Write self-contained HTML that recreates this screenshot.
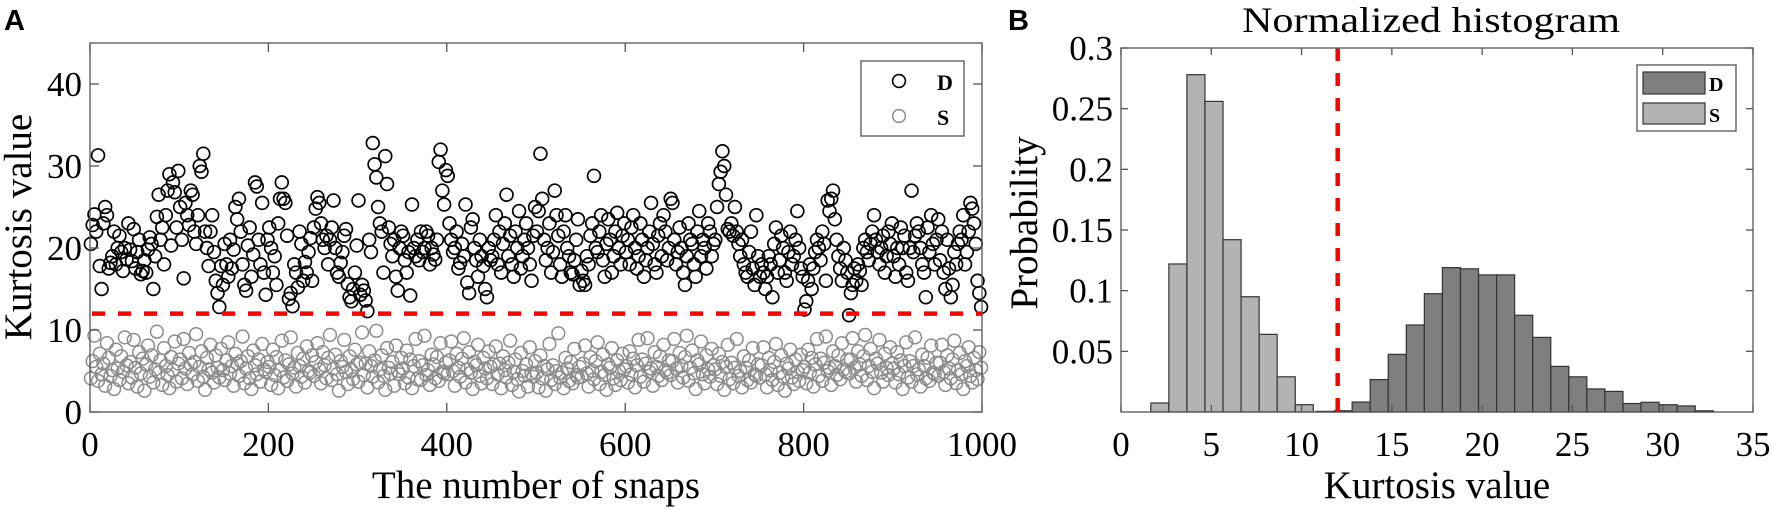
<!DOCTYPE html>
<html><head><meta charset="utf-8"><style>
html,body{margin:0;padding:0;background:#fff;}
svg{display:block;font-family:"Liberation Serif",serif;}
</style></head><body>
<svg id="chart" width="1772" height="510" viewBox="0 0 1772 510" xmlns="http://www.w3.org/2000/svg">
<text x="4" y="30" font-family="Liberation Sans, sans-serif" font-weight="bold" font-size="29">A</text>
<text x="1008" y="30" font-family="Liberation Sans, sans-serif" font-weight="bold" font-size="29">B</text>
<g id="pa"></g>
<g id="pb"></g>
</svg>
<script>
// ---------- Panel A data ----------
const aXTicks = [0,200,400,600,800,1000];
const aYTicks = [0,10,20,30,40];
const aThreshold = 12;
const dValues = [
20.5,22.8,24.1,22,31.3,17.8,15,23,25,24,17.5,18.2,19,22,18,20,21.5,19.5,17.2,20,18.6,23,19.8,18.4,22.3,
17.5,19.5,21,16.8,17.2,18.5,17,19.8,21.3,20.5,15,19,23.8,26.5,21,22.5,18,24,27,29,20.3,28,26.8,22.5,29.4,
25,21,16.3,25.5,24,22.8,27,26.5,22,20.5,24,30,29.3,31.5,22,20,17.8,22,24,19.5,16,14.5,12.8,17.8,15.5,
20.5,18,16.5,21,17.5,19.8,25,23.5,26,22,18,15.5,14.8,20.3,22.5,16.5,19.2,28,27.5,21,18,25.5,17,14.3,21,
22.5,20,17,19,15.5,23,26,28,26,25.5,21.5,13.8,14.5,12.9,18,17,15.2,22,20.5,16,18.3,17,19.5,21.2,16,
22.5,24.8,26.2,25.5,23,21,20,21.5,18,21,22.5,25.8,20,17,16.5,18.2,19.5,21.5,22.3,15.6,14,13.5,15,17,20.3,
25.8,14.3,15.5,14.8,13.6,12.3,21,19.5,32.8,30.2,28.6,25,23,22,17,31.2,27.8,22.5,20.5,19,21,16.5,14.8,20,22,
21.5,18.5,17,19.5,14.2,25.3,20,19,21,18.5,22,19.5,20,22,21.5,18,20,19.2,18.6,21,30.5,32,27,25.3,29.5,
28.8,23,21,19.5,20,22,17.5,18.2,20.5,19,25.3,15.8,14.5,22.5,23.5,20,18.5,16.5,21,19,17.8,15,14,20,18.5,
19,21,24,18,22,17,20.5,23,26.5,19,21.5,18,16.5,22,20,24.5,17.5,19,21,23,20,18,16,21.5,25,
22,24.5,31.5,26,21,18.5,20,23,17,19.5,27,24,21.5,18,16.5,22,24,20,19,17,16.8,18.5,21,23.5,15.5,
17.2,16,15.5,19,18,21.5,23,28.8,20,19.5,22,24,18.5,16.5,20.5,23.5,21,17,19,22,24.3,20,18,21.5,23,
19.5,21,18,22.5,24,20,17.5,19,23,21,16.5,18.5,20,22,25.5,20.5,18,17,21.5,23,19,24,22,18.5,20,
26,25.5,21,18,19.5,22.5,20,17,15.5,19,23,21,20.5,18,16.5,22,24.5,19,21,20,17.5,23,22,19,20.5,
21,25,27.8,29.3,31.8,30,26.5,22.3,22,23,21.5,25,22,20.5,19,21,18,17,16.5,19.5,22,17.5,15.5,24,19,
16.5,18,17,15,16.5,19,18,14,20.5,22.5,17,18.5,21.5,20,17,16,19.5,22,18,19,21,24.5,20,17.5,16.5,
12.5,13.5,16,18,15,17.5,19.5,21,20,18.5,22,20.5,16,25.8,24.5,26,27,23.5,21,19,17.5,16,20,18.5,17,
11.8,14.5,15.5,17.5,16,18,17.2,15.5,20,21,19.5,18.5,20.5,22,24,21,19.5,18,20,21.5,17,19,22,20.5,23,
19,16.5,20,18,22.5,20,21.5,17,16,20,27,19.5,21.5,23,22,20,18,17,14,22.5,19.5,24,20.5,18,21,
23.5,18.5,22,17,15,21,17.5,14,15.5,19.5,18,20.5,22,21,24,18,19.5,22,25.5,24.8,23,20.5,16,14.5,12.8
];
const sValues = [
4.1,6.2,9.3,5.5,3.8,7.1,4.6,5.9,3.2,8.4,6.6,4.4,5.1,2.8,7.6,5.3,3.9,6.8,4.9,9.1,5.7,3.5,6.1,4.2,8.8,
5.4,3.1,7.3,4.7,6.5,2.6,5.8,8.1,4.3,6.9,3.6,5.2,9.8,4.8,6.3,3.3,7.8,5.6,4.5,2.9,6.7,5.1,8.6,3.7,5.9,
6.4,4.1,8.9,5.3,3.4,7.2,5.8,4.6,6.1,9.5,3.8,5.5,7.4,4.3,2.7,6.6,5.2,8.2,4.8,3.6,6.9,5.4,4.2,7.7,5.1,
3.9,6.3,8.5,4.7,5.6,3.2,7.1,5.9,4.4,6.2,9.2,3.5,5.3,6.8,4.1,2.8,7.5,5.7,4.6,6.4,3.7,8.3,5.2,4.9,6.1,
5.5,3.3,7.6,4.5,6.7,2.9,5.1,8.7,4.2,6.3,3.8,5.8,9.1,4.7,5.4,3.1,7.2,5.6,4.3,6.5,3.6,8.0,5.0,4.8,6.9,
4.4,6.1,8.4,5.2,3.5,7.3,5.7,4.1,6.6,9.4,3.9,5.3,7.0,4.6,2.6,6.2,5.5,8.8,4.9,3.4,6.8,5.1,4.0,7.6,5.8,
3.7,6.0,9.7,4.5,5.9,3.0,7.4,5.6,4.3,6.3,9.9,3.6,5.2,6.9,4.4,2.7,7.8,5.4,4.7,6.1,3.2,8.1,5.0,4.6,6.6,
5.3,3.5,7.5,4.2,6.4,2.9,5.6,8.9,4.0,6.2,3.9,5.7,9.3,4.5,5.1,3.3,7.0,5.8,4.1,6.7,3.8,8.4,4.9,4.7,6.0,
4.6,6.3,8.6,5.0,3.2,7.1,5.4,4.3,6.5,9.0,3.6,5.2,7.3,4.8,2.8,6.1,5.7,8.2,4.4,3.5,6.6,5.3,4.1,7.4,5.5,
3.4,5.8,8.0,4.6,5.9,2.9,6.8,5.1,4.2,6.0,8.7,3.3,4.9,6.4,4.0,2.5,7.2,5.0,4.4,5.8,3.1,7.9,4.7,4.3,6.2,
4.8,3.0,6.9,4.1,5.6,2.6,5.2,8.3,3.9,5.7,3.4,5.0,9.6,4.2,4.8,2.9,6.6,5.3,3.8,6.1,3.5,7.7,4.5,4.2,5.5,
4.3,5.9,8.1,4.7,3.1,6.7,5.0,4.0,6.2,8.5,3.4,4.9,7.0,4.5,2.7,5.8,5.4,7.8,4.1,3.3,6.3,5.0,3.9,7.1,5.2,
5.6,3.6,7.4,4.6,6.5,3.0,5.7,8.8,4.3,6.4,3.7,5.9,9.0,4.9,5.3,3.2,7.3,5.5,4.4,6.8,3.9,8.2,5.1,4.8,6.3,
4.5,6.2,8.9,5.3,3.6,7.2,5.6,4.2,6.7,9.3,3.8,5.4,7.5,4.7,2.8,6.3,5.8,8.6,4.6,3.5,6.9,5.2,4.3,7.7,5.7,
5.2,3.4,7.1,4.4,6.1,2.7,5.5,8.2,4.0,6.0,3.5,5.4,8.9,4.4,5.0,3.0,6.8,5.4,3.9,6.3,3.6,7.8,4.6,4.4,5.8,
4.2,5.7,7.9,4.6,3.0,6.6,5.1,3.9,6.1,8.3,3.3,4.8,6.9,4.3,2.6,5.9,5.3,7.6,4.2,3.4,6.4,4.9,3.8,7.0,5.1,
5.5,3.5,7.6,4.8,6.6,3.1,5.8,8.9,4.4,6.5,3.8,6.0,9.2,5.0,5.4,3.3,7.4,5.6,4.5,6.9,4.0,8.4,5.2,4.9,6.4,
4.7,6.4,9.0,5.4,3.7,7.4,5.8,4.4,6.8,9.4,3.9,5.6,7.7,4.9,2.9,6.5,5.9,8.8,4.8,3.7,7.1,5.4,4.5,7.9,5.9,
5.3,3.6,7.3,4.6,6.3,2.8,5.6,8.5,4.2,6.2,3.7,5.6,9.1,4.6,5.2,3.1,7.0,5.6,4.1,6.6,3.8,8.1,4.8,4.6,6.0,
4.4,6.0,8.2,4.9,3.3,6.9,5.3,4.1,6.4,8.7,3.5,5.1,7.2,4.6,2.8,6.2,5.6,7.9,4.4,3.6,6.6,5.1,4.0,7.3,5.4
];
// ---------- Panel B data ----------
const bXTicks = [0,5,10,15,20,25,30,35];
const bYTicks = [0.05,0.1,0.15,0.2,0.25,0.3];
const bThreshold = 12;
const binWidth = 1;
const sBinStart = 1.65;
const sProb = [0.0074,0.122,0.278,0.256,0.142,0.095,0.064,0.029,0.006];
const dBinStart = 10.8;
const dProb = [0.0005,0.001,0.0082,0.0267,0.0475,0.0717,0.0975,0.119,0.118,0.113,0.113,0.0797,0.0615,0.0376,0.029,0.019,0.017,0.007,0.008,0.006,0.005,0.001];

const NS="http://www.w3.org/2000/svg";
function mk(parent,tag,attrs,txt){const e=document.createElementNS(NS,tag);for(const k in attrs)e.setAttribute(k,attrs[k]);if(txt!==undefined)e.textContent=txt;parent.appendChild(e);return e;}

// Panel A
const A={l:90,r:982,t:43,b:412,xmax:1000,ymax:45};
const ax=v=>A.l+(v/A.xmax)*(A.r-A.l);
const ay=v=>A.b-(v/A.ymax)*(A.b-A.t);
const pa=document.getElementById('pa');
const ptsS=mk(pa,'g',{fill:'none',stroke:'#8c8c8c','stroke-width':1.5});


sValues.forEach((v,i)=>{const c=mk(ptsS,'circle',{cx:ax(i*2+1),cy:ay(v),r:6.4});

});
const ptsD=mk(pa,'g',{fill:'none',stroke:'#000','stroke-width':1.7});


dValues.forEach((v,i)=>{const c=mk(ptsD,'circle',{cx:ax(i*2+1),cy:ay(v),r:6.4});

});
const thA=mk(pa,'line',{x1:ax(0)+2,x2:A.r,y1:ay(aThreshold),y2:ay(aThreshold),stroke:'#ff0000','stroke-width':4.5,'stroke-dasharray':'13 13'});


const boxA=mk(pa,'rect',{x:A.l,y:A.t,width:A.r-A.l,height:A.b-A.t,fill:'none',stroke:'#555','stroke-width':1.3});


aXTicks.forEach(t=>{const x=ax(t);
mk(pa,'line',{x1:x,x2:x,y1:A.b,y2:A.b-9,stroke:'#555','stroke-width':1.3});
mk(pa,'line',{x1:x,x2:x,y1:A.t,y2:A.t+9,stroke:'#555','stroke-width':1.3});
const tl=mk(pa,'text',{x:x,y:456,'font-size':35,'text-anchor':'middle'},String(t));

});
aYTicks.forEach(t=>{const y=ay(t);
mk(pa,'line',{x1:A.l,x2:A.l+9,y1:y,y2:y,stroke:'#555','stroke-width':1.3});
mk(pa,'line',{x1:A.r,x2:A.r-9,y1:y,y2:y,stroke:'#555','stroke-width':1.3});
const tl=mk(pa,'text',{x:82,y:y+12,'font-size':35,'text-anchor':'end'},String(t));

});
const xtA=mk(pa,'text',{x:536,y:498,'font-size':39,'text-anchor':'middle'},'The number of snaps');


const ytA=mk(pa,'text',{x:0,y:0,'font-size':39,'text-anchor':'middle',transform:'translate(31,227) rotate(-90)'},'Kurtosis value');


const lgA=mk(pa,'g',{});


mk(lgA,'rect',{x:861,y:61,width:103,height:75,fill:'#fff',stroke:'#555','stroke-width':1.3});
mk(lgA,'circle',{cx:899,cy:81,r:6.4,fill:'none',stroke:'#000','stroke-width':1.6});
mk(lgA,'circle',{cx:899,cy:116,r:6.4,fill:'none',stroke:'#8c8c8c','stroke-width':1.5});
mk(lgA,'text',{x:937,y:90,'font-size':22,'font-weight':'bold'},'D');
mk(lgA,'text',{x:937,y:125,'font-size':22,'font-weight':'bold'},'S');

// Panel B
const B={l:1121,r:1753,t:48,b:412,xmax:35,ymax:0.3};
const bx=v=>B.l+(v/B.xmax)*(B.r-B.l);
const by=v=>B.b-(v/B.ymax)*(B.b-B.t);
const pb=document.getElementById('pb');
sProb.forEach((p,i)=>{const x0=bx(sBinStart+i*binWidth),x1=bx(sBinStart+(i+1)*binWidth);
const r=mk(pb,'rect',{x:x0,y:by(p),width:x1-x0,height:B.b-by(p),fill:'#b3b3b3',stroke:'#333','stroke-width':1.2});

});
dProb.forEach((p,i)=>{const x0=bx(dBinStart+i*binWidth),x1=bx(dBinStart+(i+1)*binWidth);
const r=mk(pb,'rect',{x:x0,y:by(p),width:x1-x0,height:B.b-by(p),fill:'#7f7f7f',stroke:'#333','stroke-width':1.2});

});
const thB=mk(pb,'line',{x1:bx(bThreshold),x2:bx(bThreshold),y1:B.t,y2:B.b,stroke:'#ff0000','stroke-width':4.5,'stroke-dasharray':'13 12'});


const boxB=mk(pb,'rect',{x:B.l,y:B.t,width:B.r-B.l,height:B.b-B.t,fill:'none',stroke:'#555','stroke-width':1.3});


bXTicks.forEach(t=>{const x=bx(t);
mk(pb,'line',{x1:x,x2:x,y1:B.b,y2:B.b-7,stroke:'#555','stroke-width':1.3});
mk(pb,'line',{x1:x,x2:x,y1:B.t,y2:B.t+7,stroke:'#555','stroke-width':1.3});
const tl=mk(pb,'text',{x:x,y:456,'font-size':35,'text-anchor':'middle'},String(t));

});
bYTicks.forEach(t=>{const y=by(t);
mk(pb,'line',{x1:B.l,x2:B.l+7,y1:y,y2:y,stroke:'#555','stroke-width':1.3});
mk(pb,'line',{x1:B.r,x2:B.r-7,y1:y,y2:y,stroke:'#555','stroke-width':1.3});
const tl=mk(pb,'text',{x:1113,y:y+12,'font-size':35,'text-anchor':'end'},String(t));

});
const titleB=mk(pb,'text',{x:1431,y:32,'font-size':36,'text-anchor':'middle',textLength:378,lengthAdjust:'spacingAndGlyphs'},'Normalized histogram');


const xtB=mk(pb,'text',{x:1437,y:498,'font-size':39,'text-anchor':'middle'},'Kurtosis value');


const ytB=mk(pb,'text',{x:0,y:0,'font-size':39,'text-anchor':'middle',transform:'translate(1037,223) rotate(-90)'},'Probability');


const lgB=mk(pb,'g',{});


mk(lgB,'rect',{x:1637,y:65,width:99,height:66,fill:'#fff',stroke:'#555','stroke-width':1.3});
mk(lgB,'rect',{x:1643,y:72,width:62,height:22,fill:'#7f7f7f',stroke:'#333','stroke-width':1.2});
mk(lgB,'rect',{x:1643,y:103,width:62,height:21,fill:'#b3b3b3',stroke:'#333','stroke-width':1.2});
mk(lgB,'text',{x:1709,y:91,'font-size':20,'font-weight':'bold'},'D');
mk(lgB,'text',{x:1709,y:122,'font-size':20,'font-weight':'bold'},'S');
</script>
</body></html>
